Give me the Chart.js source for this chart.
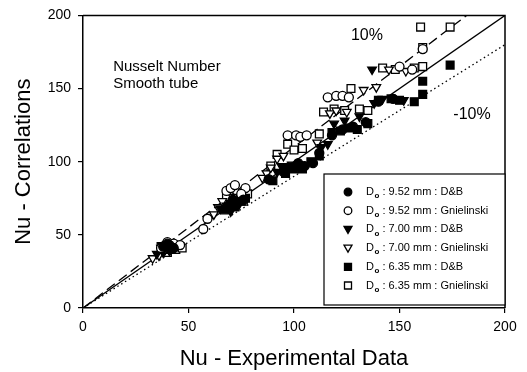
<!DOCTYPE html>
<html>
<head>
<meta charset="utf-8">
<script src="https://cdn.jsdelivr.net/npm/chart.js@4.4.1/dist/chart.umd.min.js"></script>
<style>
html, body { margin: 0; padding: 0; background: #fff; }
</style>
</head>
<body>
<canvas id="main" width="527" height="372"></canvas>
<script>
const font = 'Arial, "Liberation Sans", Helvetica, sans-serif';

// legend labels (after "Do :")
const names = ['9.52 mm : D&B', '9.52 mm : Gnielinski', '7.00 mm : D&B', '7.00 mm : Gnielinski', '6.35 mm : D&B', '6.35 mm : Gnielinski'];

// Nu experimental (x) / Nu correlation (y)
const db952x = [38, 40, 41, 43, 69, 71, 73, 76, 88, 95, 97, 100, 102, 105, 109, 112, 118, 123, 128, 134, 140, 147];
const db952y = [42, 44, 43, 41, 70, 74, 72, 74, 88, 93, 96, 96, 99, 97, 99, 106, 118, 122, 124, 127, 141, 143];
const gn952x = [37, 39, 40, 43, 46, 57, 59, 68, 70, 72, 77, 75, 97, 101, 103, 106, 116, 120, 123, 126, 150, 156, 161];
const gn952y = [41, 43, 45, 44, 43, 54, 61, 80, 82, 84, 82, 78, 118, 118, 117, 118, 144, 145, 145, 144, 165, 163, 177];
const db700x = [35, 37, 38, 41, 65, 68, 70, 74, 92, 94, 96, 99, 103, 113, 116, 119, 124, 131, 138, 142, 152, 137];
const db700y = [37, 41, 39, 39, 68, 70, 66, 71, 93, 97, 94, 98, 98, 110, 112, 126, 128, 131, 140, 143, 142, 163];
const gn700x = [33, 36, 38, 39, 62, 64, 66, 71, 85, 87, 89, 92, 95, 111, 117, 120, 125, 133, 139, 145, 153];
const gn700y = [34, 36, 38, 40, 64, 69, 73, 76, 89, 92, 96, 102, 104, 113, 133, 135, 134, 149, 151, 163, 162];
const db635x = [37, 39, 42, 45, 67, 70, 72, 75, 77, 90, 96, 100, 104, 108, 112, 118, 122, 126, 130, 135, 140, 146, 150, 157, 161, 161, 174];
const db635y = [42, 40, 42, 43, 67, 71, 69, 73, 75, 87, 92, 95, 95, 100, 104, 120, 121, 123, 122, 126, 142, 143, 142, 141, 146, 155, 166];
const gn635x = [40, 42, 44, 46, 47, 68, 72, 76, 78, 89, 92, 97, 100, 104, 112, 114, 119, 124, 127, 131, 135, 142, 148, 157, 161, 160, 174, 161];
const gn635y = [38, 43, 40, 42, 41, 76, 74, 73, 78, 97, 105, 112, 108, 109, 119, 134, 136, 135, 150, 136, 135, 164, 163, 164, 165, 192, 192, 178];

// reference lines y = k * x  (solid, +10%, -10%)
const lineK = [1, 1.1, 0.9];
const lineX = [0, 200];

const xs = [db952x, gn952x, db700x, gn700x, db635x, gn635x];
const ys = [db952y, gn952y, db700y, gn700y, db635y, gn635y];

const marks = [
    {style: 'circle', fill: true, r: 4.5},
    {style: 'circle', fill: false, r: 4.5},
    {style: 'triangle', fill: true, r: 5},
    {style: 'triangle', fill: false, r: 5},
    {style: 'rect', fill: true, r: 5.5},
    {style: 'rect', fill: false, r: 5.5}
];
const dashes = [[], [10, 5], [1.5, 3]];

let datasets = [];
for (let i = 0; i < names.length; i++) {
    datasets.push({
        type: 'scatter',
        label: names[i],
        data: xs[i].map((v, j) => ({x: v, y: ys[i][j]})),
        pointStyle: marks[i].style,
        pointRotation: marks[i].style == 'triangle' ? 180 : 0,
        pointRadius: marks[i].r,
        pointBackgroundColor: marks[i].fill ? '#000' : '#fff',
        pointBorderColor: '#000',
        pointBorderWidth: 1.3,
        order: 1
    });
}
for (let i = 0; i < lineK.length; i++) {
    datasets.push({
        type: 'line',
        label: 'line' + i,
        data: lineX.map(v => ({x: v, y: v * lineK[i]})),
        borderColor: '#000',
        borderWidth: 1.3,
        borderDash: dashes[i],
        pointRadius: 0,
        fill: false,
        order: 10
    });
}

// marker shapes for the boxed legend
const drawMark = (ctx, m, cx, cy) => {
    ctx.beginPath();
    if (m.style == 'circle') {
        ctx.arc(cx, cy, 3.8, 0, Math.PI * 2);
    } else if (m.style == 'triangle') {
        ctx.moveTo(cx - 4, cy - 3);
        ctx.lineTo(cx + 4, cy - 3);
        ctx.lineTo(cx, cy + 4);
        ctx.closePath();
    } else {
        ctx.rect(cx - 3.5, cy - 3.5, 7, 7);
    }
    ctx.fillStyle = m.fill ? '#000' : '#fff';
    ctx.fill();
    ctx.strokeStyle = '#000';
    ctx.lineWidth = 1.3;
    ctx.stroke();
}

const extras = {
    id: 'extras',
    afterDatasetsDraw(chart) {
        const ctx = chart.ctx;
        const a = chart.chartArea;
        const sx = chart.scales.x, sy = chart.scales.y;
        ctx.save();
        ctx.strokeStyle = '#000';
        ctx.lineWidth = 1.5;
        ctx.beginPath();
        ctx.moveTo(a.left, a.top);
        ctx.lineTo(a.right, a.top);
        ctx.lineTo(a.right, a.bottom);
        ctx.stroke();

        // notes in the plot
        ctx.fillStyle = '#000';
        ctx.textAlign = 'left';
        ctx.textBaseline = 'middle';
        ctx.font = '15px ' + font;
        ctx.fillText('Nusselt Number', sx.getPixelForValue(14.3), sy.getPixelForValue(164.5));
        ctx.fillText('Smooth tube', sx.getPixelForValue(14.3), sy.getPixelForValue(153));
        ctx.font = '16px ' + font;
        ctx.fillText('10%', sx.getPixelForValue(127), sy.getPixelForValue(186));
        ctx.fillText('-10%', sx.getPixelForValue(175.5), sy.getPixelForValue(132));

        // legend box
        const left = a.right - 181, top = a.bottom - 134, bottom = a.bottom - 3;
        ctx.fillStyle = '#fff';
        ctx.fillRect(left, top, a.right - left, bottom - top);
        ctx.lineWidth = 1.2;
        ctx.strokeRect(left, top, a.right - left, bottom - top);
        for (let i = 0; i < names.length; i++) {
            const yy = top + 18 + i * 18.7;
            drawMark(ctx, marks[i], left + 24, yy);
            ctx.fillStyle = '#000';
            ctx.textBaseline = 'middle';
            ctx.font = '11px ' + font;
            let tx = left + 42;
            ctx.fillText('D', tx, yy);
            tx += ctx.measureText('D').width;
            ctx.font = 'bold 8px ' + font;
            ctx.fillText('o', tx + 0.5, yy + 4);
            tx += ctx.measureText('o').width + 0.5;
            ctx.font = '11px ' + font;
            ctx.fillText(' : ' + names[i], tx, yy);
        }
        ctx.restore();
    }
};

new Chart(document.getElementById('main'), {
    type: 'scatter',
    data: {datasets: datasets},
    options: {
        responsive: false,
        animation: false,
        devicePixelRatio: 1,
        layout: {padding: {top: 13, right: 22, left: 0, bottom: 0}},
        plugins: {legend: {display: false}, tooltip: {enabled: false}},
        scales: {
            x: {
                type: 'linear', min: 0, max: 200,
                ticks: {stepSize: 50, color: '#000', font: {family: font, size: 14}, padding: 6, maxRotation: 0},
                grid: {drawOnChartArea: false, drawTicks: true, tickLength: 5, color: '#000', lineWidth: 1.2},
                border: {display: true, color: '#000', width: 1.5},
                title: {display: true, text: 'Nu - Experimental Data', color: '#000', font: {family: font, size: 22}, padding: {top: 0, bottom: 0}},
                afterFit(s) { s.height = 64; }
            },
            y: {
                type: 'linear', min: 0, max: 200,
                ticks: {stepSize: 50, color: '#000', font: {family: font, size: 14}, padding: 7},
                grid: {drawOnChartArea: false, drawTicks: true, tickLength: 5, color: '#000', lineWidth: 1.2},
                border: {display: true, color: '#000', width: 1.5},
                title: {display: true, text: 'Nu - Correlations', color: '#000', font: {family: font, size: 22}, padding: {top: 11, bottom: 0}},
                afterFit(s) { s.width = 83; }
            }
        }
    },
    plugins: [extras]
});
</script>
</body>
</html>
